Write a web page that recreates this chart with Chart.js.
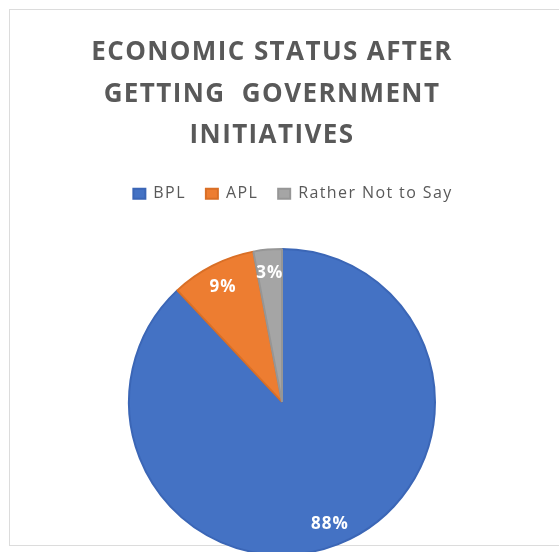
<!DOCTYPE html>
<html>
<head>
<meta charset="utf-8">
<script src="https://cdn.jsdelivr.net/npm/chart.js@4"></script>
<style>
  html, body { margin: 0; padding: 0; background: #fff; overflow: hidden; width: 559px; height: 552px; }
  .frame { position: absolute; left: 9px; top: 9px; width: 570px; height: 535px; border: 1px solid #dcdcdc; }
  #chart { position: absolute; left: 0; top: 0; }
</style>
</head>
<body>
<div class="frame"></div>
<canvas id="chart" width="559" height="593"></canvas>
<script>
// Estado economico: porcentaje por categoria
const categories = ['BPL', 'APL', 'Rather Not to Say']
const shares = [88, 9, 3]
const sliceColors = ['#4472C4', '#ED7D31', '#A5A5A5']
const edgeColors = ['#3b66b6', '#d96f26', '#969696']
const titleLines = ['ECONOMIC STATUS AFTER', 'GETTING  GOVERNMENT', 'INITIATIVES']

// Espaciado de letras para titulo y leyenda, y ajuste horizontal de cajas
const spacing = {
  id: 'spacing',
  beforeLayout(chart) { chart.ctx.letterSpacing = '1.4px' },
  afterLayout(chart) {
    chart.titleBlock.left -= 10
    chart.titleBlock.right -= 10
    chart.legend.left += 11
    chart.legend.right += 11
  },
  beforeDraw(chart) { chart.ctx.letterSpacing = '1.4px' }
}

// Etiquetas de porcentaje dentro de cada porcion
const sliceLabels = {
  id: 'sliceLabels',
  afterDatasetsDraw(chart) {
    const { ctx } = chart
    const meta = chart.getDatasetMeta(0)
    ctx.save()
    ctx.letterSpacing = '1px'
    ctx.fillStyle = '#ffffff'
    ctx.font = 'bold 17px "Open Sans"'
    ctx.textAlign = 'center'
    ctx.textBaseline = 'middle'
    meta.data.forEach((arc, i) => {
      const mid = (arc.startAngle + arc.endAngle) / 2
      const r = arc.outerRadius * 0.85
      ctx.fillText(`${shares[i]}%`, arc.x + Math.cos(mid) * r, arc.y + Math.sin(mid) * r + 1)
    })
    ctx.restore()
  }
}

new Chart(document.getElementById('chart'), {
  type: 'pie',
  data: {
    labels: categories,
    datasets: [{
      data: shares,
      backgroundColor: sliceColors,
      borderColor: edgeColors,
      borderWidth: 2,
      radius: 153
    }]
  },
  options: {
    responsive: false,
    animation: false,
    layout: { padding: { left: 5, top: 0, bottom: 1, right: 0 } },
    plugins: {
      title: {
        display: true,
        text: titleLines,
        color: '#595959',
        font: { family: '"Open Sans"', size: 26, weight: 'bold', lineHeight: 1.6 },
        padding: { top: 32, bottom: 9 }
      },
      legend: {
        display: true,
        position: 'top',
        labels: {
          color: '#595959',
          font: { family: '"Open Sans"', size: 16 },
          boxWidth: 12,
          boxHeight: 10,
          padding: 20
        }
      },
      tooltip: { enabled: false }
    }
  },
  plugins: [spacing, sliceLabels]
})
</script>
</body>
</html>
